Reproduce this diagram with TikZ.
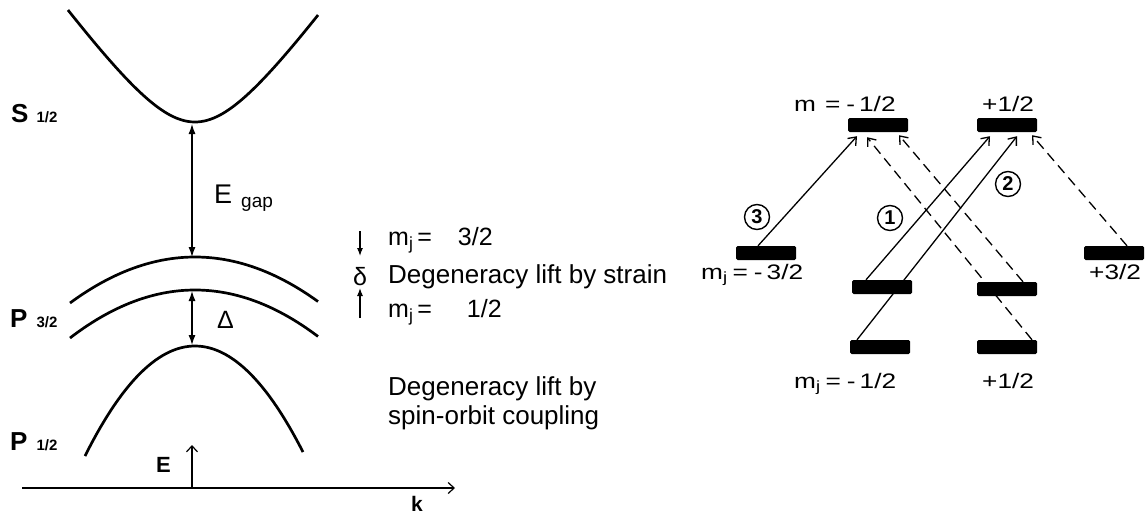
\documentclass[tikz,border=0pt]{standalone}
\usepackage{fontspec}
\setmainfont{Liberation Sans}
\newfontfamily\widefont[FakeStretch=1.25]{Liberation Sans}
\usetikzlibrary{arrows.meta,calc}
\begin{document}
\begin{tikzpicture}[x=1pt,y=-1pt,
  band/.style={line width=2.7pt},
  dbl/.style={line width=1.2pt,{Latex[length=10pt,width=7pt]}-{Latex[length=10pt,width=7pt]}},
  small/.style={line width=1.1pt,-{Latex[length=8pt,width=6pt]}},
  axisline/.style={line width=1.2pt,-{Straight Barb[length=6pt,width=11pt]}},
  lvl/.style={fill=black,rounded corners=1.5pt,minimum width=60pt,minimum height=14pt,inner sep=0pt},
  trans/.style={line width=1.3pt,-{Straight Barb[length=7pt,width=11pt]}},
  dtrans/.style={trans,dash pattern=on 10pt off 6pt},
  lbl/.style={inner sep=0pt,anchor=base west},
  num/.style={circle,draw,line width=1.4pt,minimum size=25pt,inner sep=0pt,fill=white,font=\bfseries\fontsize{20}{20}\selectfont},
  rtext/.style={lbl,font=\widefont\fontsize{21}{21}\selectfont}
]
\useasboundingbox (0,0) rectangle (1146,517);

% ---------- left panel: bands ----------
\draw[band] plot[domain=-127:123,samples=80,variable=\t] ({195+\t},{122-83.5*(sqrt(1+(\t/60)^2)-1)});
\draw[band] plot[domain=-125:123,samples=60,variable=\t] ({195+\t},{257+46*(\t/125)^2});
\draw[band] plot[domain=-125:123,samples=60,variable=\t] ({195+\t},{290+48*(\t/125)^2});
\draw[band] plot[domain=-110:108,samples=60,variable=\t] ({195+\t},{346+110*(\t/110)^2});

\coordinate (Sbot) at (192,124);
\coordinate (P3top) at (192,257);
\coordinate (P3low) at (192,291);
\coordinate (P1top) at (192,345);
\draw[dbl] (Sbot) -- (P3top);
\draw[dbl] (P3low) -- (P1top);

\coordinate (kstart) at (22,488);
\coordinate (kend) at (455,488);
\coordinate (Eorg) at (192,488);
\coordinate (Etip) at (192,445);
\draw[axisline] (kstart) -- (kend);
\draw[axisline] (Eorg) -- (Etip);

\node[lbl] (S) at (11,122) {\fontsize{26}{26}\selectfont\bfseries S\hspace{8pt}\fontsize{15}{15}\selectfont 1/2};
\node[lbl] (P3) at (10,327) {\fontsize{26}{26}\selectfont\bfseries P\hspace{9pt}\fontsize{15}{15}\selectfont 3/2};
\node[lbl] (P1) at (10,450) {\fontsize{26}{26}\selectfont\bfseries P\hspace{9pt}\fontsize{15}{15}\selectfont 1/2};
\node[lbl] (Egap) at (214,203) {\fontsize{27}{27}\selectfont E\hspace{9pt}\raisebox{-4pt}{\fontsize{19}{19}\selectfont gap}};
\node[lbl] (Delta) at (217,328) {\fontsize{25}{25}\selectfont Δ};
\node[lbl] (E) at (156,472) {\bfseries\fontsize{22}{22}\selectfont E};
\node[lbl] (k) at (411,511) {\bfseries\fontsize{21}{21}\selectfont k};

% ---------- middle texts ----------
\coordinate (dA) at (360,231);
\coordinate (dB) at (360,256);
\coordinate (uA) at (360,318);
\coordinate (uB) at (360,288);
\draw[small] (dA) -- (dB);
\draw[small] (uA) -- (uB);
\node[anchor=base,inner sep=0pt] (delta) at (360,285) {\fontsize{25}{25}\selectfont δ};
\node[lbl] (mj32) at (388,245) {\fontsize{25}{25}\selectfont m\textsubscript{j}\hspace{4pt}=\hspace{26pt}3/2};
\node[lbl] (strain) at (388,283) {\fontsize{26}{26}\selectfont Degeneracy lift by strain};
\node[lbl] (mj12) at (388,317) {\fontsize{25}{25}\selectfont m\textsubscript{j}\hspace{4pt}=\hspace{35pt}1/2};
\node[lbl] (so1) at (388,395) {\fontsize{26}{26}\selectfont Degeneracy lift by};
\node[lbl] (so2) at (388,424) {\fontsize{26}{26}\selectfont spin-orbit coupling};

% ---------- right panel: levels ----------
\node[lvl] (T1) at (878,125) {};
\node[lvl] (T2) at (1007,125) {};
\node[lvl] (L) at (766,253) {};
\node[lvl] (R) at (1114,253) {};
\node[lvl] (M1) at (882,287) {};
\node[lvl] (M2) at (1007,289) {};
\node[lvl] (B1) at (880,347) {};
\node[lvl] (B2) at (1007,347) {};

\draw[trans] ([xshift=-8pt]L.north) -- ([xshift=-21pt,yshift=-4pt]T1.south);
\draw[trans] ([xshift=-16pt]M1.north) -- ([xshift=-17pt,yshift=-4pt]T2.south);
\draw[trans] ([xshift=-23pt]B1.north) -- ([xshift=10pt,yshift=-4pt]T2.south);
\draw[dtrans] ([xshift=16pt]M2.north) -- ([xshift=21pt,yshift=-3pt]T1.south);
\draw[dtrans] ([xshift=25pt]B2.north) -- ([xshift=-11pt,yshift=-5pt]T1.south);
\draw[dtrans] ([xshift=13pt]R.north) -- ([xshift=25pt,yshift=-3pt]T2.south);

\node[num] (c3) at (757,217) {3};
\node[num] (c1) at (890,218) {1};
\node[num] (c2) at (1008,184) {2};

\node[rtext] (mtop) at (794,111) {m\hspace{9pt}=\hspace{6pt}-\hspace{4pt}1/2};
\node[rtext] (ptop) at (982,111) {+1/2};
\node[rtext] (mleft) at (701,279) {m\textsubscript{j}\hspace{5pt}=\hspace{6pt}-\hspace{4pt}3/2};
\node[rtext] (pright) at (1089,279) {+3/2};
\node[rtext] (mbot) at (794,388) {m\textsubscript{j}\hspace{5pt}=\hspace{6pt}-\hspace{4pt}1/2};
\node[rtext] (pbot) at (982,388) {+1/2};
\end{tikzpicture}
\end{document}
